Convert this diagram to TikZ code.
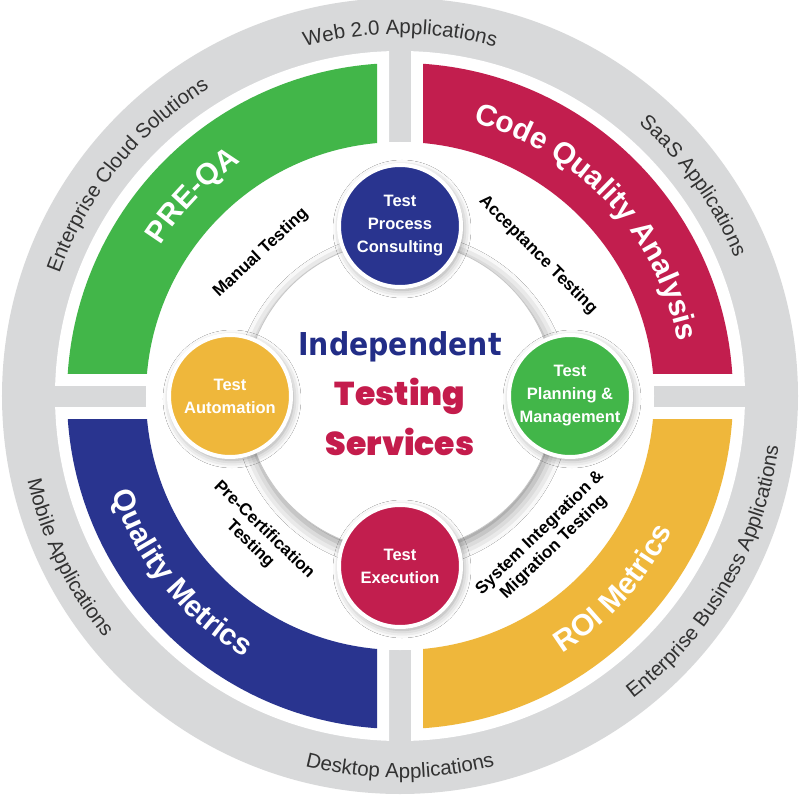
\documentclass[tikz,border=0pt]{standalone}
\usepackage{fontspec}
\setmainfont{Liberation Sans}
\newfontfamily\indfont{DejaVu Sans}[FakeStretch=0.9]
\IfFontExistsTF{Poppins Black}
 {\newfontfamily\tsfont{Poppins Black}\def\tsweight{}\def\tssize{\fontsize{33}{38}\selectfont}}
 {\IfFontExistsTF{Lato Black}
   {\newfontfamily\tsfont{Lato Black}[FakeStretch=1.15]\def\tsweight{}\def\tssize{\fontsize{34}{38}\selectfont}}
   {\newfontfamily\tsfont{DejaVu Sans}\def\tsweight{\bfseries}\def\tssize{\fontsize{32}{38}\selectfont}}}
\usetikzlibrary{decorations.text,shadows.blur}
\definecolor{ringgray}{RGB}{216,217,218}
\definecolor{qgreen}{RGB}{66,182,73}
\definecolor{qred}{RGB}{194,30,78}
\definecolor{qblue}{RGB}{41,52,143}
\definecolor{qyellow}{RGB}{239,183,59}
\definecolor{indblue}{RGB}{34,45,135}
\definecolor{tscrimson}{RGB}{196,28,76}
\definecolor{outtext}{RGB}{50,50,50}
% text along an arc, tops outward (clockwise path)
\newcommand\TopsOut[5]{\path[decorate,decoration={text along path,text align=center,text color=#4,text={|#3|#5}}] (#2+70:#1) arc[start angle=#2+70,end angle=#2-70,radius=#1];}
% text along an arc, tops inward (counterclockwise path)
\newcommand\TopsIn[5]{\path[decorate,decoration={text along path,text align=center,text color=#4,text={|#3|#5}}] (#2-70:#1) arc[start angle=#2-70,end angle=#2+70,radius=#1];}
\newcommand\outfont{\fontsize{20.5}{24}\selectfont}
\newcommand\bandfont{\bfseries\fontsize{30}{36}\selectfont}
\begin{document}
\begin{tikzpicture}[x=1pt,y=1pt,
  bubble/.style={circle, minimum size=122, inner sep=0, draw=white, line width=4,
    text=white, align=center, font=\bfseries\fontsize{16.5}{23}\selectfont,
    blur shadow={shadow blur radius=8pt, shadow xshift=2pt, shadow yshift=-3pt, shadow opacity=40}},
  midlabel/.style={align=center, font=\bfseries\fontsize{17}{20}\selectfont, text=black, inner sep=0},
  bigword/.style={anchor=base, inner sep=0}
]
\useasboundingbox (-400,-399) rectangle (400,396);
% outer gray disk
\fill[ringgray] (0,0) circle (398);
% white quadrant frames
\foreach \sx/\sy in {-1/1,1/1,-1/-1,1/-1}{
  \begin{scope}
    \clip (\sx*11,\sy*11) rectangle (\sx*400,\sy*400);
    \fill[white] (0,0) circle (345);
  \end{scope}
}
\fill[white] (0,0) circle (254);
% coloured bands
\foreach \sx/\sy/\c in {-1/1/qgreen,1/1/qred,-1/-1/qblue,1/-1/qyellow}{
  \begin{scope}
    \clip (\sx*23,\sy*23) rectangle (\sx*400,\sy*400);
    \fill[\c, even odd rule] (0,0) circle (333) (0,0) circle (254);
  \end{scope}
}
% outer ring texts
\TopsOut{362}{90}{\outfont}{outtext}{Web 2.0 Applications}
\TopsOut{362}{141}{\outfont}{outtext}{Enterprise Cloud Solutions}
\TopsOut{362}{35.6}{\outfont}{outtext}{SaaS Applications}
\TopsIn{382}{270}{\outfont}{outtext}{Desktop Applications}
\TopsIn{382}{206}{\outfont}{outtext}{Mobile Applications}
\TopsIn{382}{330}{\outfont}{outtext}{Enterprise Business Applications}
% band texts
\TopsOut{283}{136}{\bandfont}{white}{PRE-QA}
\TopsOut{283}{43}{\bandfont}{white}{Code Quality Analysis}
\TopsIn{304}{219}{\bandfont}{white}{Quality Metrics}
\TopsIn{304}{318}{\bandfont}{white}{ROI Metrics}
% middle labels
\node[midlabel, rotate=43] (man) at (-139,143) {Manual Testing};
\node[midlabel, rotate=-45] (acc) at (138,141) {Acceptance Testing};
\node[midlabel, rotate=-44] (pre) at (-143,-141) {Pre-Certification\\Testing};
\node[midlabel, rotate=44] (sys) at (147,-144) {System Integration \&\\Migration Testing};
% central circle
\node[circle, minimum size=310, inner sep=0, fill=white, draw=black!22, line width=0.8,
  blur shadow={shadow blur radius=14pt, shadow xshift=2pt, shadow yshift=-5pt, shadow opacity=45}] (core) at (0,0) {};
\node[bigword, text=indblue, font=\indfont\bfseries\fontsize{31.5}{36}\selectfont] (ind) at (0,41) {Independent};
\node[bigword, text=tscrimson, font=\tsfont\tsweight\tssize] (tst) at (0,-9) {Testing};
\node[bigword, text=tscrimson, font=\tsfont\tsweight\tssize] (srv) at (0,-59) {Services};
% satellite circles
\node[bubble, fill=qblue] (tpc) at (0,170) {Test\\Process\\Consulting};
\node[bubble, fill=qyellow] (tau) at (-170,0) {Test\\Automation};
\node[bubble, fill=qgreen] (tpm) at (170,0) {Test\\Planning \&\\Management};
\node[bubble, fill=qred] (tex) at (0,-170) {Test\\Execution};
\end{tikzpicture}
\end{document}
